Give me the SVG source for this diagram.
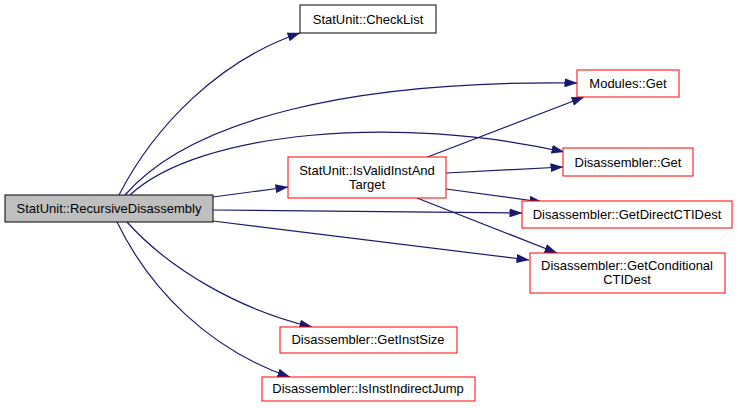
<svg xmlns="http://www.w3.org/2000/svg" width="739" height="408" viewBox="0 0 739 408">
<style>
.node rect{fill:#ffffff;stroke:#ff0000;stroke-width:1}
.node.root rect{fill:#bfbfbf;stroke:#000000}
.node.plain rect{stroke:#000000}
.node text{font-family:"Liberation Sans",Arial,sans-serif;font-size:13px;fill:#000000;text-anchor:middle}
.edges path{fill:none;stroke:#191970;stroke-width:1.2;marker-end:url(#arr)}
</style>
<defs>
<marker id="arr" viewBox="0 0 13 9" refX="12.5" refY="4.5" markerWidth="13" markerHeight="9" markerUnits="userSpaceOnUse" orient="auto">
<path d="M0,0 L13,4.5 L0,9 z" fill="#191970"/>
</marker>
</defs>
<rect width="739" height="408" fill="#ffffff"/>
<g class="edges">
<path d="M119,195 C155,125 220,60 300,33"/>
<path d="M125,195 C190,120 350,80 577,83"/>
<path d="M130,195 C200,130 400,115 564,152"/>
<path d="M213,197 L288,187"/>
<path d="M213,210 L522,213"/>
<path d="M213,221 L529,260"/>
<path d="M127,222 C170,270 240,310 312,327"/>
<path d="M117,222 C150,290 210,350 290,377"/>
<path d="M425,158 L584,97"/>
<path d="M446,173 L563,167"/>
<path d="M446,189 L542,202"/>
<path d="M417,198 L557,253"/>
</g>
<g id="recursive" class="node root"><rect x="5" y="195" width="208" height="27"/><text x="109" y="213">StatUnit::RecursiveDisassembly</text></g>
<g id="checklist" class="node plain"><rect x="300" y="5" width="136" height="28"/><text x="368" y="24">StatUnit::CheckList</text></g>
<g id="modulesget" class="node"><rect x="577" y="70" width="102" height="27"/><text x="628" y="88">Modules::Get</text></g>
<g id="isvalid" class="node"><rect x="288" y="157" width="158" height="41"/><text x="367" y="175">StatUnit::IsValidInstAnd</text><text x="367" y="189">Target</text></g>
<g id="disget" class="node"><rect x="563" y="148" width="130" height="28"/><text x="628" y="167">Disassembler::Get</text></g>
<g id="getdirect" class="node"><rect x="522" y="201" width="210" height="27"/><text x="627" y="219">Disassembler::GetDirectCTIDest</text></g>
<g id="getcond" class="node"><rect x="530" y="253" width="195" height="40"/><text x="627" y="270">Disassembler::GetConditional</text><text x="627" y="284">CTIDest</text></g>
<g id="getinstsize" class="node"><rect x="280" y="327" width="177" height="26"/><text x="368" y="344">Disassembler::GetInstSize</text></g>
<g id="isindirect" class="node"><rect x="262" y="377" width="213" height="24"/><text x="368" y="393">Disassembler::IsInstIndirectJump</text></g>
</svg>
